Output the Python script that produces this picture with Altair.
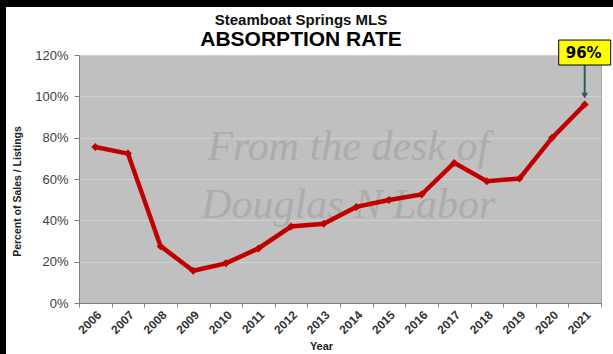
import altair as alt
import pandas as pd

# ---- data ----
years = [str(y) for y in range(2006, 2022)]
absorption = [0.755, 0.723, 0.275, 0.156, 0.192, 0.264, 0.370, 0.383,
              0.465, 0.498, 0.525, 0.678, 0.589, 0.602, 0.799, 0.96]
y_ticks = [0, 0.2, 0.4, 0.6, 0.8, 1.0, 1.2]

watermark_lines = ["From the desk of", "Douglas N Labor"]
watermark_year = ["2014", "2014"]
watermark_level = [0.755, 0.474]

callout_year = ["2021"]
callout_text = ["96%"]
callout_box_level = [1.212]
arrow_top_level = [1.152]
arrow_tip_level = [1.003]

FONT = "Liberation Sans"
LINE_RED = "#c00000"

df = pd.DataFrame({"Year": years, "Rate": absorption})
wm = pd.DataFrame({"Year": watermark_year, "Rate": watermark_level, "Text": watermark_lines})
callout = pd.DataFrame({"Year": callout_year, "Rate": callout_box_level, "Label": callout_text,
                        "Top": arrow_top_level, "Tip": arrow_tip_level})
frame = pd.DataFrame({"k": [0]})

x_scale = alt.Scale(type="band", domain=years, paddingInner=0, paddingOuter=0)
y_scale = alt.Scale(domain=[0, 1.2], nice=False)

x_axis = alt.Axis(
    title="Year", labelAngle=-45, labelAlign="right", labelBaseline="top",
    labelFont=FONT, labelFontSize=12, labelFontWeight="bold", labelColor="#333333",
    labelPadding=2, tickBand="extent", tickSize=4, tickColor="#808080",
    domainColor="#808080", grid=False,
    titleFont=FONT, titleFontSize=11, titleFontWeight="bold", titleColor="#222222",
    titleX=242, titleY=43, titleAlign="center", titleBaseline="middle")
y_axis = alt.Axis(
    title="Percent of Sales / Listings", values=y_ticks, format=".0%",
    labelFont=FONT, labelFontSize=13, labelColor="#404040", labelPadding=6,
    tickSize=5, tickColor="#808080", domainColor="#808080",
    grid=True, gridColor="#d0d0d0", gridWidth=1,
    titleFont=FONT, titleFontSize=10.5, titleFontWeight="bold", titleColor="#222222",
    titleAngle=270, titleX=-62, titleY=136, titleAlign="center", titleBaseline="middle")

X = alt.X("Year:O", scale=x_scale, axis=x_axis, title="Year")
Y = alt.Y("Rate:Q", scale=y_scale, axis=y_axis, title="Percent of Sales / Listings")

watermark = alt.Chart(wm).mark_text(
    font="Liberation Serif", fontStyle="italic", fontSize=42, color="#a8a8a8",
    opacity=0.8, baseline="middle", dx=-8
).encode(x=X, y=Y, text="Text:N")

line = alt.Chart(df).mark_line(
    color=LINE_RED, strokeWidth=4.5,
    point=alt.OverlayMarkDef(shape="diamond", size=64, color=LINE_RED, filled=True)
).encode(x=X, y=Y)

arrow = alt.Chart(callout).mark_rule(color="#2e5a5a", strokeWidth=2).encode(
    x=X, y=alt.Y("Top:Q", scale=y_scale, axis=y_axis, title="Percent of Sales / Listings"),
    y2="Tip:Q")
arrow_head = alt.Chart(callout).mark_point(
    shape="triangle-down", size=45, filled=True, color="#2e5a5a", opacity=1
).encode(x=X, y=alt.Y("Tip:Q", scale=y_scale, axis=y_axis, title="Percent of Sales / Listings"))
box = alt.Chart(callout).mark_point(
    shape="M-1,-0.48L1,-0.48L1,0.48L-1,0.48Z", size=2704, filled=True,
    fill="#ffff00", stroke="#000000", strokeWidth=1, opacity=1, dx=-1
).encode(x=X, y=Y)
box_text = alt.Chart(callout).mark_text(
    font="DejaVu Sans", fontWeight="bold", fontSize=15, color="#000000",
    baseline="middle", dx=-1
).encode(x=X, y=Y, text="Label:N")

# black frame strips at the top and left edge of the picture
strip_left = alt.Chart(frame).mark_rect(color="#000000").encode(
    x=alt.value(-79), x2=alt.value(-73), y=alt.value(-55), y2=alt.value(299))
strip_top = alt.Chart(frame).mark_rect(color="#000000").encode(
    x=alt.value(-79), x2=alt.value(534), y=alt.value(-55), y2=alt.value(-48))

chart = alt.layer(
    watermark, line, arrow, arrow_head, box, box_text, strip_left, strip_top
).properties(
    width=522, height=248,
    title=alt.Title("Steamboat Springs MLS", subtitle="ABSORPTION RATE",
                    font=FONT, fontSize=15, fontWeight="bold", color="#111111",
                    subtitleFont=FONT, subtitleFontSize=21, subtitleFontWeight="bold",
                    subtitleColor="#000000", subtitlePadding=1,
                    anchor="middle", dx=-39, offset=0, dy=50),
    padding={"left": 79, "top": 55, "right": 12, "bottom": 51},
    autosize=alt.AutoSizeParams(type="none"),
    background="#ffffff"
).configure_view(fill="#c0c0c0", stroke="#a8a8a8", strokeWidth=1)

chart.save("out.html", embed_options={"renderer": "svg", "actions": False})
